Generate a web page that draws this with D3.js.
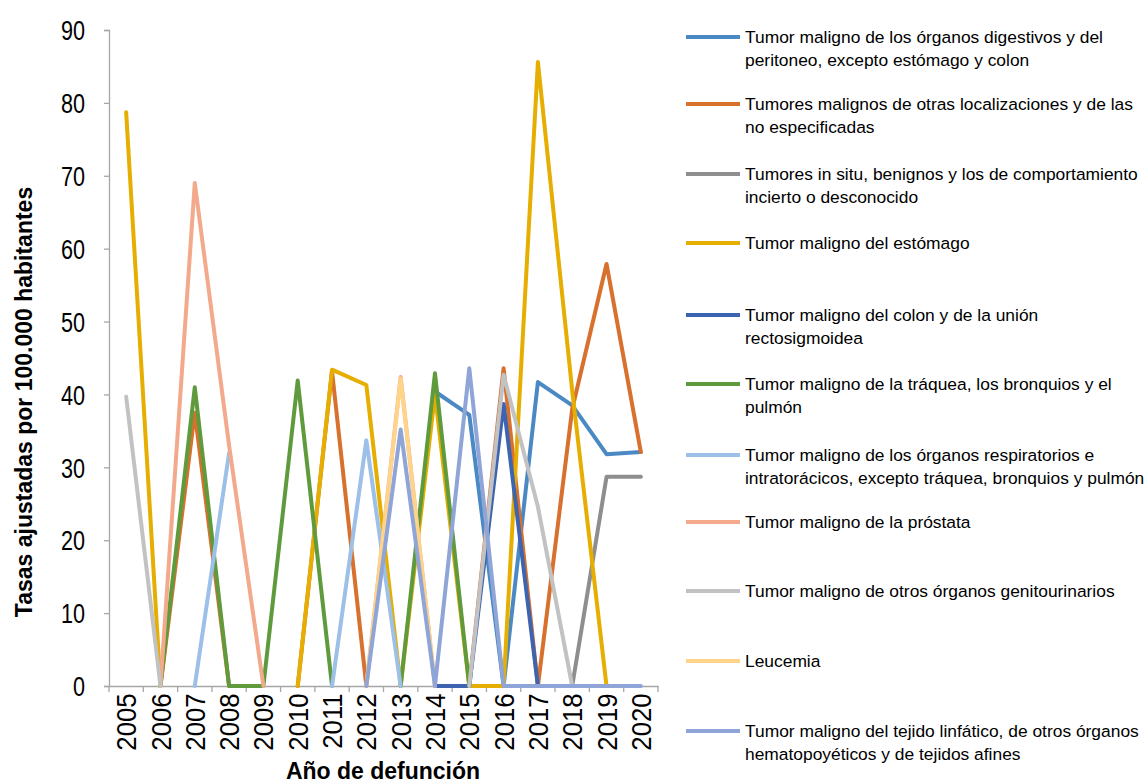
<!DOCTYPE html>
<html>
<head>
<meta charset="utf-8">
<script src="https://cdn.jsdelivr.net/npm/d3@7"></script>
<style>
  html, body { margin: 0; padding: 0; background: #fff; }
  svg { display: block; }
  .sans { font-family: "Liberation Sans", Arial, sans-serif; }
</style>
</head>
<body>
<svg id="chart" width="1146" height="784"></svg>
<script>
const years = ["2005","2006","2007","2008","2009","2010","2011","2012","2013","2014","2015","2016","2017","2018","2019","2020"];
const yTicks = [0,10,20,30,40,50,60,70,80,90];

const seriesNames = [
  ["Tumor maligno de los órganos digestivos y del", "peritoneo, excepto estómago y colon"],
  ["Tumores malignos de otras localizaciones y de las", "no especificadas"],
  ["Tumores in situ, benignos y los de comportamiento", "incierto o desconocido"],
  ["Tumor maligno del estómago"],
  ["Tumor maligno del colon y de la unión", "rectosigmoidea"],
  ["Tumor maligno de la tráquea, los bronquios y el", "pulmón"],
  ["Tumor maligno de los órganos respiratorios e", "intratorácicos, excepto tráquea, bronquios y pulmón"],
  ["Tumor maligno de la próstata"],
  ["Tumor maligno de otros órganos genitourinarios"],
  ["Leucemia"],
  ["Tumor maligno del tejido linfático, de otros órganos", "hematopoyéticos y de tejidos afines"]
];

const digestivos     = [null,null,null,null,null,null,null,null,null,40.4,37.2,0,41.7,38.5,31.8,32.1];
const otrasLoc       = [null,0,37.5,0,null,0,43.2,0,null,null,0,43.6,0,38.0,57.9,32.1];
const inSitu         = [null,null,null,null,null,null,null,null,null,null,null,null,null,0,28.7,28.7];
const estomago       = [78.7,0,null,null,null,0,43.4,41.3,0,40.0,0,0,85.6,40.5,0,null];
const colon          = [null,null,null,null,null,null,null,null,null,0,0,38.7,0,null,null,null];
const traquea        = [null,0,41.0,0,0,41.9,0,null,0,42.9,0,null,null,null,null,null];
const respiratorios  = [null,null,0,32.0,null,null,0,33.7,0,null,null,null,null,null,null,null];
const prostata       = [null,0,69.0,33.0,0,null,null,0,42.4,0,null,null,null,null,null,null];
const genitourinarios= [39.7,0,null,null,null,null,null,null,null,null,0,42.7,24.6,0,null,null];
const leucemia       = [null,null,null,null,null,null,null,0,42.2,0,null,null,null,null,null,null];
const linfatico      = [null,null,null,null,null,null,null,0,35.2,0,43.6,0,0,0,0,0];

const allSeries = [digestivos, otrasLoc, inSitu, estomago, colon, traquea, respiratorios, prostata, genitourinarios, leucemia, linfatico];
const colors = ["#4a89c4","#d8702e","#8e8e8e","#e5ae00","#3d64b0","#5f9b3d","#9dc0e8","#f3aa8c","#c2c2c2","#fed38a","#8fa5d8"];

const svg = d3.select("#chart");

const x = d3.scaleBand().domain(years).range([109, 658]);
const y = d3.scaleLinear().domain([0, 90]).range([686, 30]);

const axisColor = "#a6a6a6";

// Y axis
const yAxis = svg.append("g").attr("transform", "translate(109,0)")
  .call(d3.axisLeft(y).tickValues(yTicks).tickSize(5).tickPadding(0));
yAxis.select(".domain").attr("stroke", axisColor).attr("stroke-width", 1.3);
yAxis.selectAll(".tick line").attr("stroke", axisColor).attr("stroke-width", 1.3);
yAxis.selectAll(".tick text")
  .attr("class", "sans").attr("font-size", 27).attr("fill", "#000")
  .attr("x", 0).attr("dy", "0.36em")
  .attr("transform", "translate(-24,0) scale(0.8,1)");

// X axis
const xAxis = svg.append("g").attr("transform", "translate(0,686)")
  .call(d3.axisBottom(x).tickSize(0).tickPadding(0));
xAxis.select(".domain").attr("stroke", axisColor).attr("stroke-width", 1.3);
xAxis.selectAll(".tick text")
  .attr("class", "sans")
  .attr("font-size", 28)
  .attr("fill", "#000")
  .attr("text-anchor", "end")
  .attr("transform", "rotate(-90) scale(0.92,1)")
  .attr("x", -8)
  .attr("y", 0)
  .attr("dy", "0.36em");
// category boundary ticks
const boundaries = years.map(d => x(d)).concat([x.range()[1]]);
xAxis.selectAll(".btick").data(boundaries).enter().append("line")
  .attr("x1", d => d).attr("x2", d => d).attr("y1", 0).attr("y2", 6)
  .attr("stroke", axisColor).attr("stroke-width", 1.3);

// Lines
const line = d3.line()
  .defined(d => d.v !== null)
  .x(d => x(d.year) + x.bandwidth() / 2)
  .y(d => y(d.v));

allSeries.forEach((vals, i) => {
  const data = years.map((yr, j) => ({ year: yr, v: vals[j] }));
  svg.append("path")
    .datum(data)
    .attr("fill", "none")
    .attr("stroke", colors[i])
    .attr("stroke-width", 4)
    .attr("stroke-linejoin", "round")
    .attr("stroke-linecap", "round")
    .attr("d", line);
});

// Axis titles
svg.append("text")
  .attr("class", "sans")
  .attr("transform", "translate(32,402) rotate(-90)")
  .attr("text-anchor", "middle")
  .attr("font-size", 23)
  .attr("font-weight", "bold")
  .text("Tasas ajustadas por 100.000 habitantes");

svg.append("text")
  .attr("class", "sans")
  .attr("x", 383).attr("y", 779)
  .attr("text-anchor", "middle")
  .attr("font-size", 23)
  .attr("font-weight", "bold")
  .text("Año de defunción");

// Legend
const legendY = [37, 104, 174, 243, 315, 384, 455, 522, 591, 661, 731];
const legend = svg.append("g");
seriesNames.forEach((lines, i) => {
  const g = legend.append("g").attr("transform", `translate(0,${legendY[i]})`);
  g.append("line").attr("x1", 686).attr("x2", 740).attr("y1", 0).attr("y2", 0)
    .attr("stroke", colors[i]).attr("stroke-width", 4);
  const t = g.append("text").attr("class", "sans").attr("font-size", 17.4).attr("fill", "#000")
    .attr("x", 745).attr("y", 0);
  lines.forEach((ln, k) => {
    t.append("tspan").attr("x", 745).attr("dy", k === 0 ? "0.35em" : 23).text(ln);
  });
});
</script>
</body>
</html>
